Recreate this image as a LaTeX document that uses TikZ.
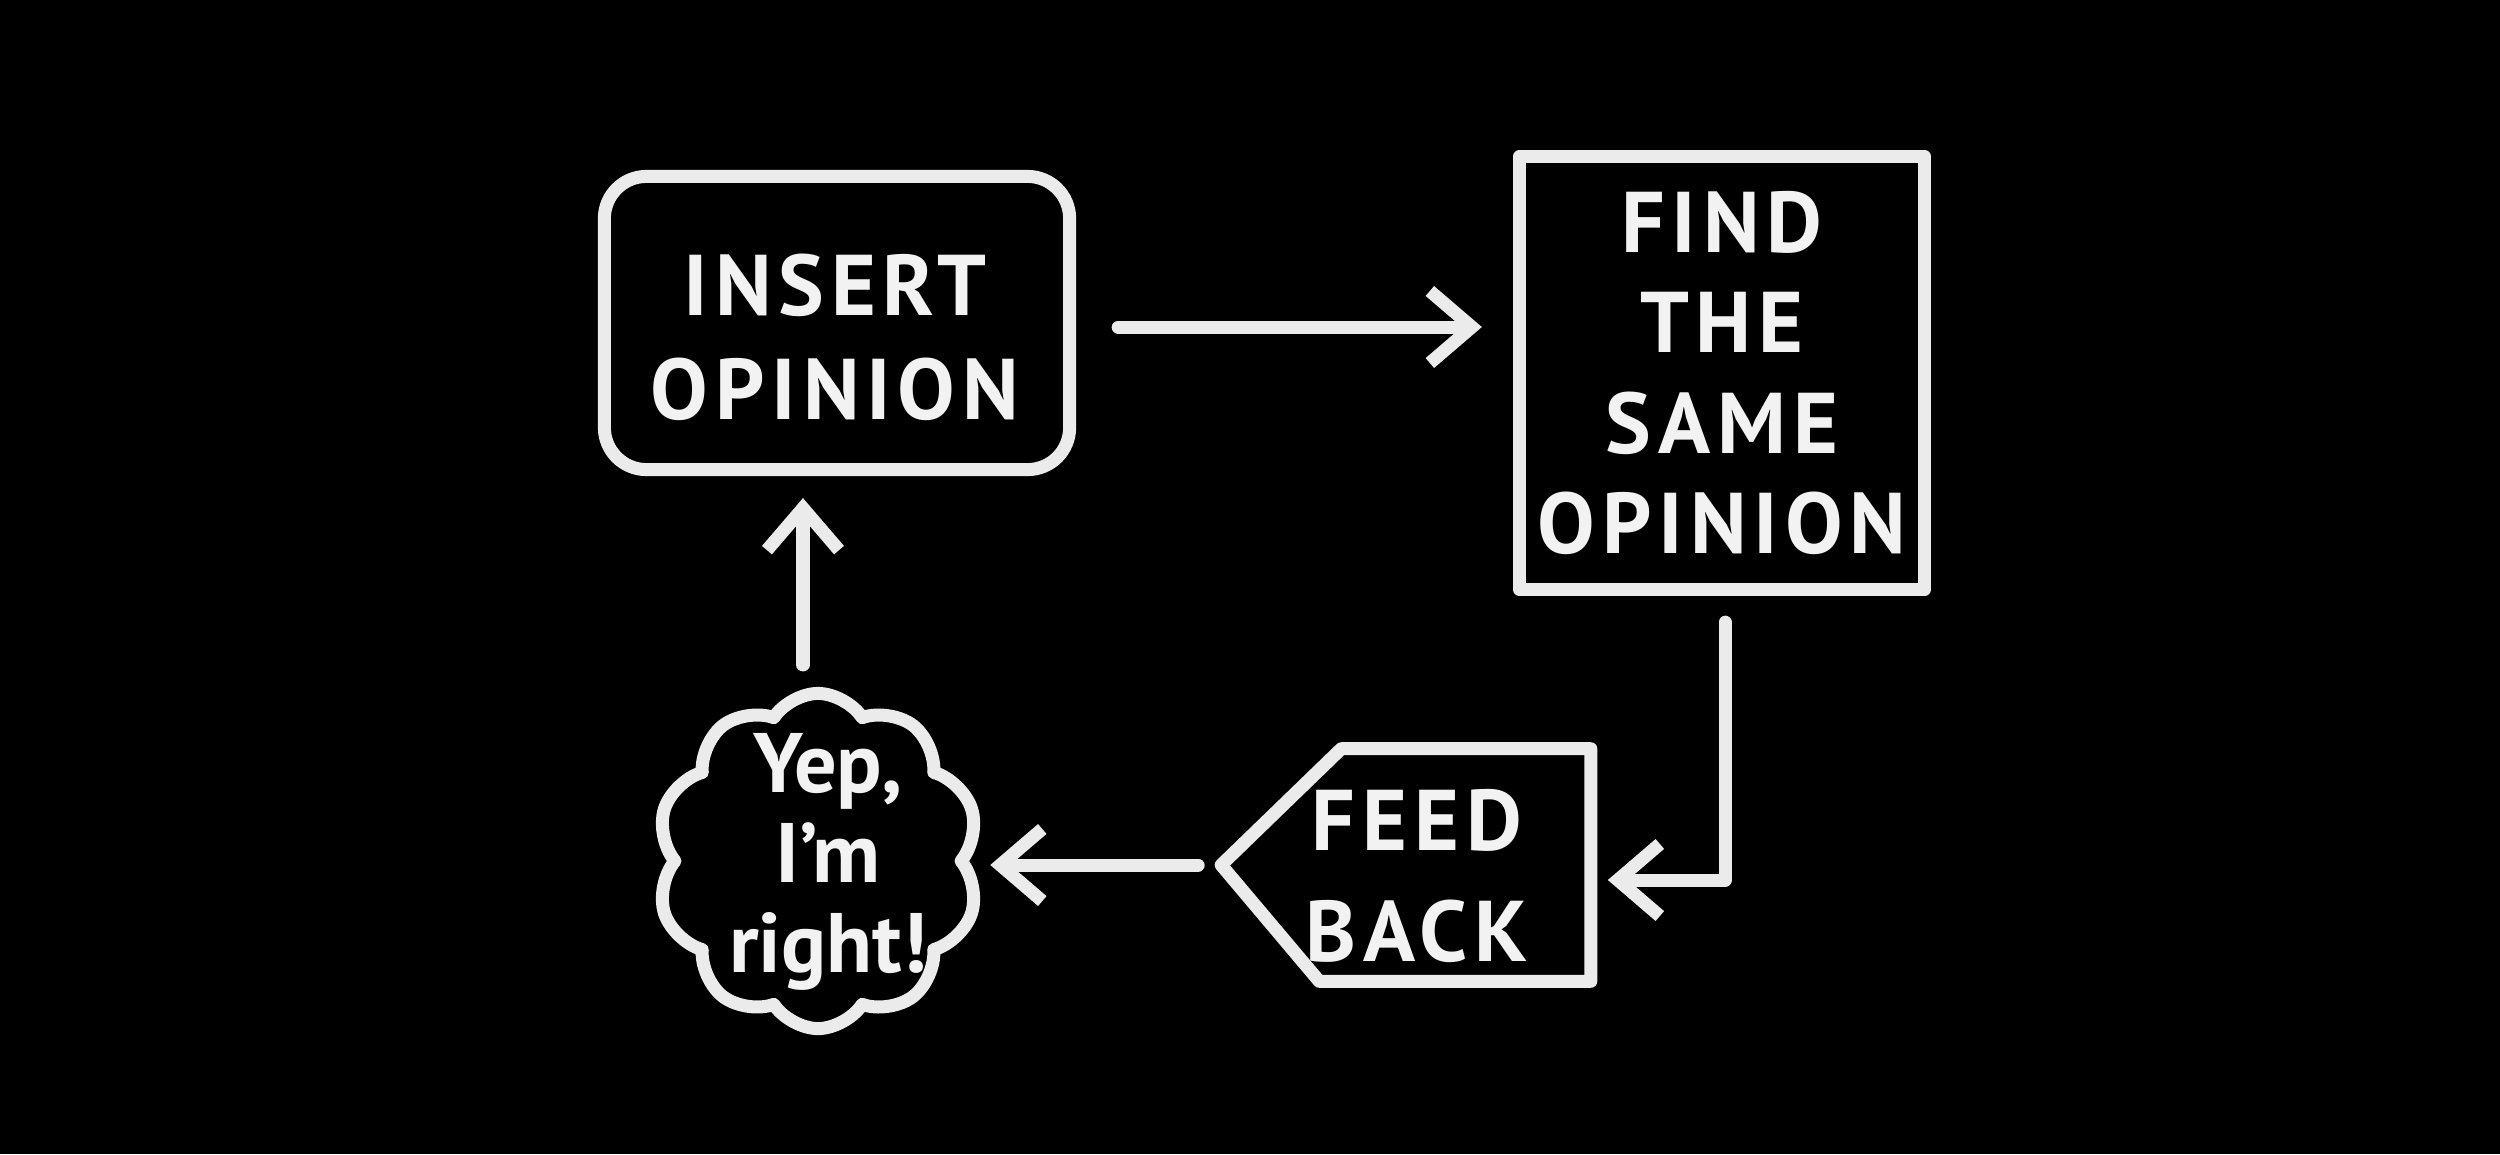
\documentclass[tikz,border=0pt]{standalone}
\usepackage{fontspec}
\setmainfont{PT Sans}
\usetikzlibrary{arrows.meta,shapes.symbols}
\begin{document}
\begin{tikzpicture}[x=0.01cm,y=-0.01cm,
  ink/.style={draw=white!92!black, line width=0.13cm, line cap=round, line join=round},
  lbl/.style={text=white!95!black, font=\fontsize{24.5}{28.5}\selectfont\bfseries\addfontfeatures{LetterSpace=8}, align=center, inner sep=0pt},
  cloudlbl/.style={text=white!95!black, font=\fontsize{24}{25.5}\selectfont\bfseries, align=center, inner sep=0pt},
  arr/.style={ink, -{Straight Barb[length=0.42cm,width=0.72cm]}}]
\fill[black] (0,0) rectangle (2500,1154);
\useasboundingbox (0,0) rectangle (2500,1154);

\node[ink, rounded corners=0.42cm, minimum width=4.65cm, minimum height=2.93cm] (ins) at (837,323) {};
\node[lbl] (inst) at (835,337) {INSERT\\[1pt]OPINION};
\node[ink, lbl, minimum width=4.05cm, minimum height=4.33cm] (find) at (1722,373) {FIND\\THE\\SAME\\OPINION};
\node[minimum width=3.68cm, minimum height=2.31cm] (fb) at (1406,865) {};
\draw[ink] (fb.west) -- ([xshift=1.2cm]fb.north west) -- (fb.north east) -- (fb.south east) -- ([xshift=0.98cm]fb.south west) -- cycle;
\node[lbl] (fbt) at (1417,876) {FEED\\[3pt]BACK};
\node[ink, cloud, cloud puffs=10, cloud puff arc=115, aspect=0.95, minimum width=3.23cm, minimum height=3.35cm] (cloud) at (818,861) {};
\node[cloudlbl] (cloudt) at (828,862) {Yep,\\I'm\\right!};

\draw[arr, shorten <=0.42cm, shorten >=0.31cm] ([yshift=-0.04cm]ins.east) -- ([yshift=-0.04cm]ins.east -| find.west);
\draw[arr, shorten <=0.26cm, shorten >=0.17cm] ([xshift=0.03cm]find.south) |- ([yshift=-0.15cm]fb.east);
\draw[arr, shorten <=0.23cm, shorten >=0.21cm] (fb.west) -- (fb.west -| cloud.east);
\draw[arr, shorten <=0.22cm, shorten >=0.22cm] ([xshift=-0.15cm]cloud.north) -- ([xshift=-0.15cm]cloud.north |- ins.south);
\end{tikzpicture}
\end{document}
